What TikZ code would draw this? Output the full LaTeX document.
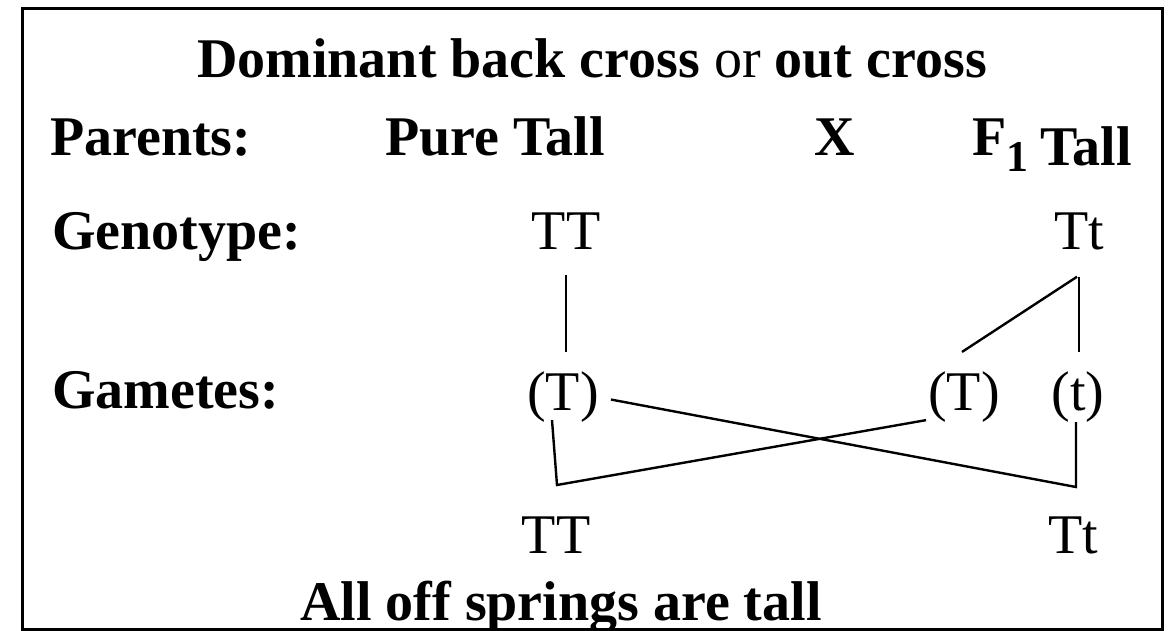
\documentclass[tikz,border=0pt]{standalone}
\usepackage{fontspec}
\setmainfont{Liberation Serif}
\usetikzlibrary{positioning, calc}

\begin{document}
\begin{tikzpicture}[
    x=1pt, y=-1pt,
    lbl/.style={inner sep=0pt, font=\fontsize{56}{60}\selectfont\bfseries},
    gene/.style={inner sep=0pt, anchor=base, font=\fontsize{56}{60}\selectfont},
    link/.style={line width=2.4pt}
  ]
  \useasboundingbox (0,0) rectangle (1171,630);
  \draw[line width=3pt] (22,8) rectangle (1162,629);

  % headings
  \node[lbl, anchor=base] (title) at (592,77)
    {Dominant back cross \textmd{or} out cross};
  \node[lbl, anchor=base west] (parents) at (50,155) {Parents:};
  \node[lbl, anchor=base west] (pure) at (385,155) {Pure Tall};
  \node[lbl, anchor=base] (cross) at (835,155) {X};
  \node[lbl, anchor=base west] (f1) at (972,155)
    {F\raisebox{-16pt}{\fontsize{44}{44}\selectfont 1}\hspace{12pt}\raisebox{-10pt}{Tall}};
  \node[lbl, anchor=base west] (genotype) at (52,249) {Genotype:};
  \node[lbl, anchor=base west] (gametes) at (52,408) {Gametes:};

  % genotypes, gametes, offspring
  \node[gene] (gTT) at (566,249) {TT};
  \node[gene] (gTt) at (1079,249) {Tt};
  \node[gene] (gamTa) at (563,410) {(T)};
  \node[gene] (gamTb) at (964,410) {(T)};
  \node[gene] (gamt) at (1078,410) {(t)};
  \node[gene] (offTT) at (556,553) {TT};
  \node[gene] (offTt) at (1073,553) {Tt};

  \node[lbl, anchor=base] (result) at (561,620) {All off springs are tall};

  \coordinate (jTT) at (557,485);
  \coordinate (jTt) at (1076,487);

  \draw[link, shorten <=26pt, shorten >=19pt] (gTT.south) -- (gTT.south |- gamTa.north);
  \draw[link] ([xshift=-2pt, yshift=-27pt]gTt.south) -- ([xshift=-2pt, yshift=19pt]gamTb.north);
  \draw[link, shorten <=27pt, shorten >=19pt] (gTt.south) -- (gTt.south |- gamt.north);
  \draw[link] ([xshift=-11pt, yshift=2pt]gamTa.south) -- (jTT) -- ([xshift=-2pt, yshift=2pt]gamTb.south west);
  \draw[link] ([xshift=-2pt]gamt.south) -- (jTt) -- ([xshift=12pt, yshift=-3pt]gamTa.east);
\end{tikzpicture}
\end{document}
